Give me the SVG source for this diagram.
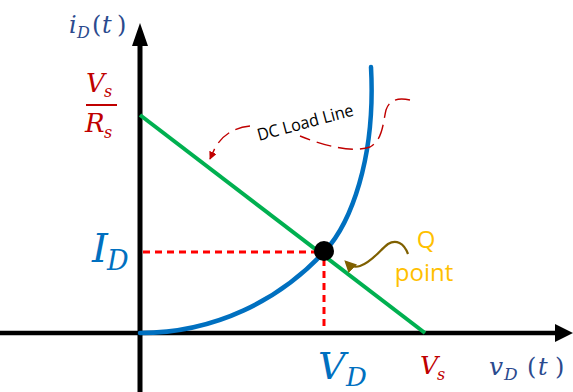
<svg xmlns="http://www.w3.org/2000/svg" width="573" height="392" viewBox="0 0 573 392">
  <defs>
    <style>
      .math { font-family: "DejaVu Serif", "Liberation Serif", serif; font-style: italic; }
      .up { font-style: normal; }
      .navy { fill: #2B4A8E; }
      .dred { fill: #C00000; }
      .blue { fill: #0070C0; }
      .axis { stroke: #000; stroke-width: 5; fill: none; }
      .guide { stroke: #FF0000; stroke-width: 3; stroke-dasharray: 7 5; fill: none; }
      .annot { stroke: #C00000; stroke-width: 1.4; stroke-dasharray: 15 7; fill: none; }
    </style>
    <marker id="redhead" viewBox="0 0 10 10" refX="9" refY="5" markerWidth="8" markerHeight="8" markerUnits="userSpaceOnUse" orient="auto">
      <path d="M0,0 L10,5 L0,10 Z" fill="#C00000"/>
    </marker>
    <marker id="brownhead" viewBox="0 0 10 10" refX="8" refY="5" markerWidth="12" markerHeight="12" markerUnits="userSpaceOnUse" orient="auto">
      <path d="M0,0 L10,5 L0,10 Z" fill="#7F6000"/>
    </marker>
  </defs>
  <rect width="573" height="392" fill="#fff"/>

  <g id="connectors">
    <g id="axes">
      <line class="axis" x1="140" y1="392" x2="140" y2="42"/>
      <polygon points="140,23 148,46 132,46" fill="#000"/>
      <line class="axis" x1="0" y1="333" x2="558" y2="333" style="stroke-width:4.5"/>
      <polygon points="573,333 555,324 555,342" fill="#000"/>
    </g>
    <path id="load-line" d="M140,115 L425,333" stroke="#00B050" stroke-width="4" fill="none"/>
    <path id="diode-curve" d="M140,333 C215,333 280,300 325,251 C350,224 376,160 371,67" stroke="#0070C0" stroke-width="4.5" fill="none" stroke-linecap="round"/>
    <g id="q-guides">
      <line class="guide" x1="143" y1="252" x2="318" y2="252"/>
      <line class="guide" x1="324" y1="259" x2="324" y2="331"/>
    </g>
    <path id="dc-annot-1" class="annot" d="M410,100 C396,97 389,101 386,110 C383,122 383,140 370,147 C352,153 325,146 300,136"/>
    <path id="dc-annot-2" class="annot" d="M250,126 C232,128 222,136 215,148 L210,159" marker-end="url(#redhead)"/>
    <path id="q-arrow" d="M408,254 C404,243 396,239 388,244 C380,250 372,262 360,266 C354,268 350,266 346,262" stroke="#7F6000" stroke-width="2.2" fill="none" marker-end="url(#brownhead)"/>
  </g>

  <g id="q-point">
    <circle cx="324" cy="251" r="10" fill="#000"/>
  </g>

  <g id="label-iD">
    <text class="math navy"><tspan x="69" y="33" font-size="24">i</tspan><tspan x="77" y="38" font-size="16">D</tspan><tspan class="up" x="92" y="33" font-size="24">(</tspan><tspan x="102" y="33" font-size="24">t</tspan><tspan class="up" x="117" y="33" font-size="24">)</tspan></text>
  </g>

  <g id="label-vs-rs">
    <text class="math dred"><tspan x="86" y="92" font-size="26">V</tspan><tspan x="104" y="97" font-size="16">s</tspan></text>
    <line x1="86" y1="105" x2="117" y2="105" stroke="#C00000" stroke-width="2"/>
    <text class="math dred"><tspan x="85" y="132" font-size="26">R</tspan><tspan x="104" y="138" font-size="16">s</tspan></text>
  </g>

  <g id="label-ID">
    <text class="math blue"><tspan x="92" y="262" font-size="40">I</tspan><tspan x="107" y="270" font-size="27">D</tspan></text>
  </g>

  <g id="label-VD">
    <text class="math blue"><tspan x="318" y="379" font-size="38">V</tspan><tspan x="346" y="386" font-size="26">D</tspan></text>
  </g>

  <g id="label-Vs">
    <text class="math dred"><tspan x="420" y="374" font-size="25">V</tspan><tspan x="437" y="380" font-size="16">s</tspan></text>
  </g>

  <g id="label-vD">
    <text class="math navy"><tspan x="489" y="375" font-size="25">v</tspan><tspan x="504" y="380" font-size="17">D</tspan><tspan class="up" x="527" y="375" font-size="24">(</tspan><tspan x="538" y="375" font-size="24">t</tspan><tspan class="up" x="555" y="375" font-size="24">)</tspan></text>
  </g>

  <g id="label-dc-load-line">
    <text x="259" y="141" transform="rotate(-15 259 141)" font-family="'Open Sans', 'Liberation Sans', sans-serif" font-size="17" textLength="99" lengthAdjust="spacingAndGlyphs" fill="#000">DC Load Line</text>
  </g>

  <g id="label-q-point">
    <text font-family="'Open Sans', 'Liberation Sans', sans-serif" font-size="24" fill="#FFC000" text-anchor="middle"><tspan x="426" y="248">Q</tspan><tspan x="424" y="281">point</tspan></text>
  </g>
</svg>
